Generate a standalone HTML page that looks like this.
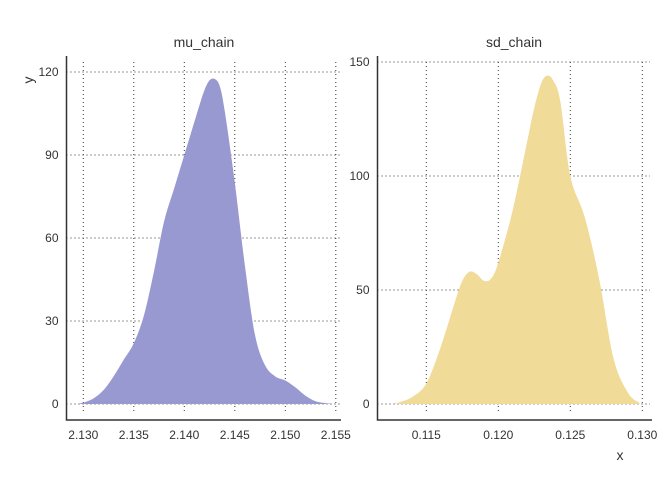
<!DOCTYPE html>
<html><head><meta charset="utf-8"><style>
html,body{margin:0;padding:0;background:#fff;}
svg{display:block;font-family:"Liberation Sans",sans-serif;}
</style></head><body>
<svg id="c" width="672" height="480"></svg>
<script>
const muX=[2.1295,2.130,2.131,2.132,2.133,2.134,2.135,2.136,2.137,2.138,2.139,2.140,2.141,2.1415,2.142,2.1425,2.143,2.1435,2.144,2.145,2.146,2.147,2.148,2.149,2.150,2.151,2.152,2.153,2.154,2.1545];
const muY=[0.2,0.5,2,5,10,16,22,32,48,66,78,90,102,108,113.5,117,117.5,115,106,80,50,25,14,10,8.5,6,3,1,0.3,0.1];
const sdX=[0.1128,0.113,0.114,0.115,0.116,0.117,0.1175,0.118,0.1185,0.119,0.1195,0.120,0.121,0.122,0.1225,0.123,0.1234,0.1238,0.1243,0.125,0.126,0.127,0.128,0.129,0.1298];
const sdY=[0.2,0.5,3,9,25,45,54,58,57,54,55,62,85,115,130,141,144,142,133,100,82,55,20,5,0.5];
const muXTicks=[2.130,2.135,2.140,2.145,2.150,2.155];
const muXLabels=["2.130","2.135","2.140","2.145","2.150","2.155"];
const muYTicks=[0,30,60,90,120];
const sdXTicks=[0.115,0.120,0.125,0.130];
const sdXLabels=["0.115","0.120","0.125","0.130"];
const sdYTicks=[0,50,100,150];
const titles=["mu_chain","sd_chain"];

const NS="http://www.w3.org/2000/svg";
const svg=document.getElementById('c');
function mk(t,a,p){const e=document.createElementNS(NS,t);for(const k in a)e.setAttribute(k,a[k]);(p||svg).appendChild(e);return e;}

function panel(cfg){
  const sx=v=>cfg.x0px+(v-cfg.x0)*cfg.kx;
  const sy=v=>cfg.y0px-v*cfg.ky;
  const g=mk('g',{});
  
  
  cfg.yt.forEach(v=>{const l=mk('line',{x1:cfg.left,x2:cfg.right,y1:sy(v),y2:sy(v),stroke:'#333','stroke-width':1,'stroke-dasharray':'1,3'},g);
    });
  cfg.xt.forEach(v=>{const l=mk('line',{x1:sx(v),x2:sx(v),y1:cfg.top,y2:cfg.bottom-6,stroke:'#333','stroke-width':1,'stroke-dasharray':'1,3'},g);
    });
  const pts=cfg.xs.map((x,i)=>[sx(x),sy(cfg.ys[i])]);
  let d=`M${pts[0][0]},${sy(0)} L${pts[0][0]},${pts[0][1]}`;
  for(let i=0;i<pts.length-1;i++){
    const p0=pts[Math.max(0,i-1)],p1=pts[i],p2=pts[i+1],p3=pts[Math.min(pts.length-1,i+2)];
    const c1=[p1[0]+(p2[0]-p0[0])/6,p1[1]+(p2[1]-p0[1])/6];
    const c2=[p2[0]-(p3[0]-p1[0])/6,p2[1]-(p3[1]-p1[1])/6];
    d+=` C${c1[0]},${Math.min(c1[1],sy(0))} ${c2[0]},${Math.min(c2[1],sy(0))} ${p2[0]},${p2[1]}`;
  }
  d+=` L${pts[pts.length-1][0]},${sy(0)} Z`;
  const a=mk('path',{d:d,fill:cfg.color},g);
  
  const ax=mk('path',{d:`M${cfg.left},${cfg.top-6} L${cfg.left},${cfg.bottom} L${cfg.axisRight},${cfg.bottom}`,fill:'none',stroke:'#333','stroke-width':1.5},g);
  
  cfg.yt.forEach(v=>{const t=mk('text',{x:cfg.left-8,y:sy(v)+4,'text-anchor':'end','font-size':12,fill:'#333'},g);t.textContent=String(v);
    });
  cfg.xt.forEach((v,i)=>{const t=mk('text',{x:sx(v),y:cfg.bottom+19,'text-anchor':'middle','font-size':12,fill:'#333'},g);t.textContent=cfg.xl[i];
    });
  const tt=mk('text',{x:cfg.titleX,y:47,'text-anchor':'middle','font-size':14,fill:'#333'},g);tt.textContent=cfg.title;
  
}
panel({name:'mu-chain-panel',title:titles[0],x0:2.130,x0px:83.3,kx:50.5/0.005,y0px:404,ky:83/30,
  left:66.5,right:340,top:62,bottom:420,axisRight:341,xs:muX,ys:muY,xt:muXTicks,xl:muXLabels,yt:muYTicks,color:'#9999d1',titleX:204});
panel({name:'sd-chain-panel',title:titles[1],x0:0.115,x0px:426.3,kx:72/0.005,y0px:404,ky:114/50,
  left:377.5,right:650,top:62,bottom:420,axisRight:652,xs:sdX,ys:sdY,xt:sdXTicks,xl:sdXLabels,yt:sdYTicks,color:'#f0dc98',titleX:514});
const yl=mk('text',{x:0,y:0,transform:'translate(33,80) rotate(-90)','text-anchor':'middle','font-size':14,fill:'#333'});yl.textContent='y';

const xl=mk('text',{x:620,y:460,'text-anchor':'middle','font-size':14,fill:'#333'});xl.textContent='x';

</script>
</body></html>
